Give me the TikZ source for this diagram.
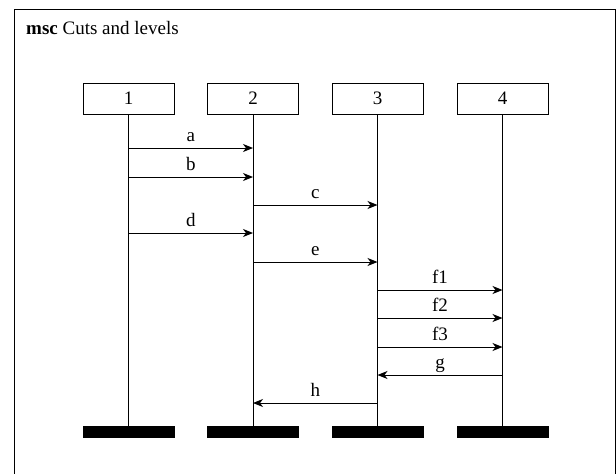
\documentclass[tikz,border=0pt]{standalone}
\usepackage{fontspec}
\setmainfont{Liberation Serif}
\usetikzlibrary{arrows.meta,calc}
\begin{document}
\begin{tikzpicture}[x=1pt,y=-1pt,
  txt/.style={font=\fontsize{19}{22}\selectfont},
  inst/.style={draw,line width=1pt,minimum width=91pt,minimum height=31pt,inner sep=0pt,txt},
  endbar/.style={fill=black,minimum width=92pt,minimum height=12pt,inner sep=0pt},
  life/.style={line width=1pt},
  msg/.style={line width=1pt,-{Stealth[length=10pt,width=8pt,inset=3pt]}},
  lbl/.style={txt,anchor=base,inner sep=0pt}]
\useasboundingbox (0,0) rectangle (616,474);
\draw[line width=1pt] (14,476) -- (14,9) -- (615,9) -- (615,476);
\node[txt,anchor=base west,inner sep=0pt] (title) at (26,34) {\textbf{msc} Cuts and levels};
\foreach \i/\x in {1/128.5,2/253,3/377.5,4/502.5}{
  \node[inst] (i\i) at (\x,98.5) {\i};
  \node[endbar] (e\i) at (\x,432) {};
  \draw[life] (i\i.south) -- (e\i.north);
}
\foreach \f/\t/\y/\l in {1/2/148/a,1/2/177/b,2/3/205/c,1/2/233/d,2/3/262/e,3/4/290/f1,3/4/318/f2,3/4/347/f3,4/3/375/g,3/2/403/h}{
  \draw[msg] (i\f.south |- 0,\y) -- (i\t.south |- 0,\y);
  \node[lbl] (l\l) at ($(i\f.south |- 0,\y)!0.5!(i\t.south |- 0,\y) + (0,-6.5)$) {\l};
}
\end{tikzpicture}
\end{document}
